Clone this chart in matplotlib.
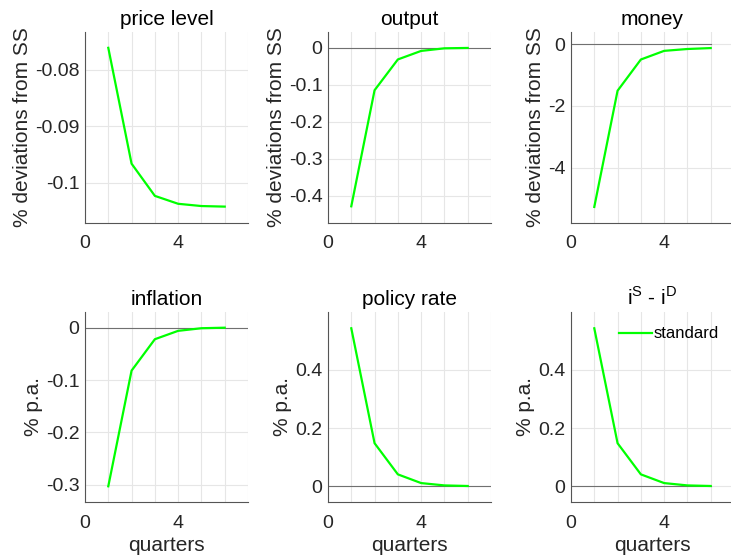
import matplotlib
matplotlib.use("Agg")
import matplotlib.pyplot as plt
from matplotlib.ticker import MultipleLocator

plt.rcParams['font.family'] = ['Liberation Sans', 'DejaVu Sans']
plt.rcParams['mathtext.fontset'] = 'custom'
plt.rcParams['mathtext.rm'] = 'Liberation Sans'

# impulse responses, quarters 1..6
quarters = [1, 2, 3, 4, 5, 6]
price_level = [-0.0761, -0.0966, -0.1023, -0.1037, -0.1041, -0.1042]
output = [-0.428, -0.115, -0.032, -0.009, -0.002, -0.001]
money = [-5.27, -1.51, -0.50, -0.22, -0.16, -0.13]
inflation = [-0.303, -0.082, -0.022, -0.006, -0.001, 0.0]
policy_rate = [0.543, 0.148, 0.041, 0.011, 0.003, 0.001]
spread = [0.543, 0.148, 0.041, 0.011, 0.003, 0.001]

titles = ['price level', 'output', 'money', 'inflation', 'policy rate',
          r'i$^{\mathregular{S}}$ - i$^{\mathregular{D}}$']
series = [price_level, output, money, inflation, policy_rate, spread]
ylabels = ['% deviations from SS'] * 3 + ['% p.a.'] * 3
ylims = [(-0.1071, -0.0733), (-0.473, 0.042), (-5.79, 0.39),
         (-0.333, 0.030), (-0.054, 0.599), (-0.054, 0.599)]
yticks = [[-0.1, -0.09, -0.08], [-0.4, -0.3, -0.2, -0.1, 0],
          [-4, -2, 0], [-0.3, -0.2, -0.1, 0], [0, 0.2, 0.4], [0, 0.2, 0.4]]
yticklabels = [['-0.1', '-0.09', '-0.08'], ['-0.4', '-0.3', '-0.2', '-0.1', '0'],
               ['-4', '-2', '0'], ['-0.3', '-0.2', '-0.1', '0'],
               ['0', '0.2', '0.4'], ['0', '0.2', '0.4']]
zero_end = [None, 7, 6, 7, 7, 6]

fig = plt.figure(figsize=(7.31, 5.6), dpi=100)
lefts = [85 / 731, 328 / 731, 571 / 731]
w = 163 / 731
txt = '#262626'

for i in range(6):
    r, c = divmod(i, 3)
    if r == 0:
        ax = fig.add_axes([lefts[c], 337 / 560, w, 191 / 560])
    else:
        ax = fig.add_axes([lefts[c], 58 / 560, w, 190 / 560])
    if zero_end[i] is not None:
        ax.plot([0, zero_end[i]], [0, 0], color='#707070', lw=0.8, zorder=2)
    ax.plot(quarters, series[i], color='#00ff00', lw=1.6, zorder=3,
            label='standard')
    ax.set_xlim(0, 7)
    ax.set_ylim(*ylims[i])
    ax.set_xticks([0, 4])
    ax.xaxis.set_minor_locator(MultipleLocator(1))
    ax.set_yticks(yticks[i])
    ax.set_yticklabels(yticklabels[i])
    ax.grid(True, which='major', color='#e6e6e6', lw=0.8, zorder=0)
    ax.grid(True, which='minor', axis='x', color='#e6e6e6', lw=0.8, zorder=0)
    ax.set_axisbelow(True)
    for s in ['top', 'right']:
        ax.spines[s].set_visible(False)
    for s in ['left', 'bottom']:
        ax.spines[s].set_color('#555555')
        ax.spines[s].set_linewidth(0.8)
    ax.tick_params(which='both', direction='in', length=0, labelsize=14,
                   labelcolor=txt)
    ax.tick_params(axis='x', pad=9)
    ax.tick_params(axis='y', pad=4)
    ax.set_title(titles[i], fontsize=15, color='black', pad=5)
    ax.set_ylabel(ylabels[i], fontsize=15, color=txt, labelpad=2)
    if r == 1:
        ax.set_xlabel('quarters', fontsize=15, color=txt, labelpad=3)
    if i == 5:
        ax.legend(loc='center left', frameon=False, fontsize=12,
                  handlelength=2.0, handletextpad=0.05, borderpad=0,
                  borderaxespad=0, bbox_to_anchor=(48 / 163, 1 - 22 / 190))

fig.savefig('out.png', dpi=100)
